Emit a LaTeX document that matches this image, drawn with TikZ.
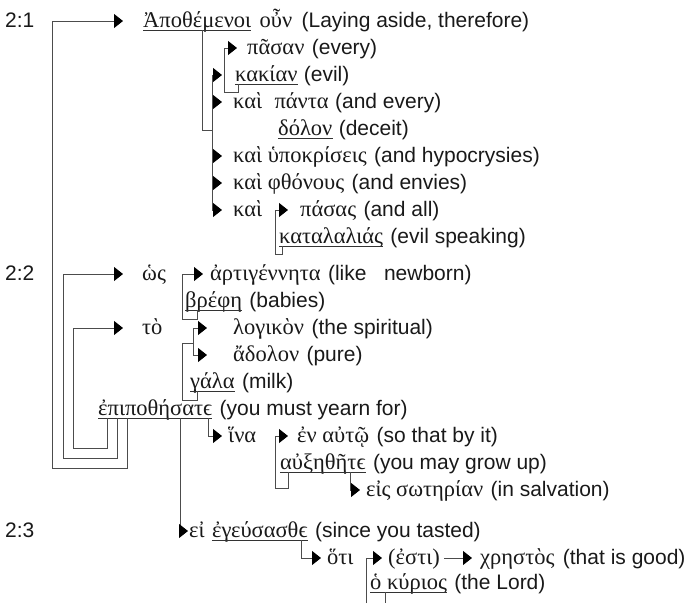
\documentclass[tikz,border=0pt]{standalone}
\usepackage{fontspec}
\setmainfont{Liberation Sans}
\newfontfamily\gk{Liberation Serif}
\usetikzlibrary{arrows.meta}
\begin{document}
\begin{tikzpicture}[x=1pt,y=-1pt,
  en/.style={anchor=base west,inner sep=0pt,text=black!90,font=\fontsize{21}{25}\selectfont},
  gk/.style={anchor=base west,inner sep=0pt,text=black!90,font=\fontsize{22.5}{27}\selectfont\gk},
  ln/.style={draw=black!70,line width=0.9pt},
  ar/.style={ln,-{Triangle[length=9pt,width=14pt,color=black]}},
  ul/.style={draw=black!80,line width=0.8pt}
]
\useasboundingbox (0,0) rectangle (696,603);
% Row 0
\node[en] (v1) at (5,27) {2:1};
\node[gk] (apo) at (143,27) {Ἀποθέμενοι};
\node[gk] (oun) at ([xshift=8pt]apo.base east) {οὖν};
\node[en] (e0) at ([xshift=9pt]oun.base east) {(Laying aside, therefore)};
% Row 1
\node[gk] (pasan) at (247,54) {πᾶσαν};
\node[en] (e1) at ([xshift=7pt]pasan.base east) {(every)};
% Row 2
\node[gk] (kakian) at (235,81) {κακίαν};
\node[en] (e2) at ([xshift=6pt]kakian.base east) {(evil)};
% Row 3
\node[gk] (kai3) at (233,108) {καὶ};
\node[gk] (panta) at ([xshift=12pt]kai3.base east) {πάντα};
\node[en] (e3) at ([xshift=6pt]panta.base east) {(and every)};
% Row 4
\node[gk] (dolon) at (278,135) {δόλον};
\node[en] (e4) at ([xshift=6pt]dolon.base east) {(deceit)};
% Row 5
\node[gk] (kai5) at (233,162) {καὶ ὑποκρίσεις};
\node[en] (e5) at ([xshift=7pt]kai5.base east) {(and hypocrysies)};
% Row 6
\node[gk] (kai6) at (233,189) {καὶ φθόνους};
\node[en] (e6) at ([xshift=7pt]kai6.base east) {(and envies)};
% Row 7
\node[gk] (kai7) at (233,216) {καὶ};
\node[gk] (pasas) at (300,216) {πάσας};
\node[en] (e7) at ([xshift=7pt]pasas.base east) {(and all)};
% Row 8
\node[gk] (katal) at (279,243) {καταλαλιάς};
\node[en] (e8) at ([xshift=7pt]katal.base east) {(evil speaking)};
% Row 9
\node[en] (v2) at (5,280) {2:2};
\node[gk] (hos) at (142,280) {ὡς};
\node[gk] (artig) at (210,280) {ἀρτιγέννητα};
\node[en] (e9) at ([xshift=7pt]artig.base east) {(like\ \ \ newborn)};
% Row 10
\node[gk] (brefe) at (185,307) {βρέφη};
\node[en] (e10) at ([xshift=7pt]brefe.base east) {(babies)};
% Row 11
\node[gk] (to) at (142,334) {τὸ};
\node[gk] (logik) at (233,334) {λογικὸν};
\node[en] (e11) at ([xshift=7pt]logik.base east) {(the spiritual)};
% Row 12
\node[gk] (adolon) at (233,361) {ἄδολον};
\node[en] (e12) at ([xshift=7pt]adolon.base east) {(pure)};
% Row 13
\node[gk] (gala) at (190,388) {γάλα};
\node[en] (e13) at ([xshift=7pt]gala.base east) {(milk)};
% Row 14
\node[gk] (epipo) at (98,415) {ἐπιποθήσατϵ};
\node[en] (e14) at ([xshift=7pt]epipo.base east) {(you must yearn for)};
% Row 15
\node[gk] (hina) at (228,442) {ἵνα};
\node[gk] (enauto) at (297,442) {ἐν αὐτῷ};
\node[en] (e15) at ([xshift=7pt]enauto.base east) {(so that by it)};
% Row 16
\node[gk] (auxe) at (280,469) {αὐξηθῆτϵ};
\node[en] (e16) at ([xshift=7pt]auxe.base east) {(you may grow up)};
% Row 17
\node[gk] (eis) at (366,496) {εἰς σωτηρίαν};
\node[en] (e17) at ([xshift=7pt]eis.base east) {(in salvation)};
% Row 18
\node[en] (v3) at (5,537) {2:3};
\node[gk] (ei) at (189,537) {εἰ};
\node[gk] (egeus) at ([xshift=7pt]ei.base east) {ἐγεύσασθϵ};
\node[en] (e18) at ([xshift=7pt]egeus.base east) {(since you tasted)};
% Row 19
\node[gk] (hoti) at (327,564) {ὅτι};
\node[gk] (esti) at (388,564) {(ἐστι)};
\node[gk] (chr) at (480,564) {χρηστὸς};
\node[en] (e19) at ([xshift=8pt]chr.base east) {(that is good)};
% Row 20
\node[gk] (kyr) at (370,589) {ὁ κύριος};
\node[en] (e20) at ([xshift=7pt]kyr.base east) {(the Lord)};
\coordinate (b1) at (366,603);
\coordinate (b2) at (385,603);
% underlines
\foreach \n in {apo,kakian,dolon,katal,brefe,gala,epipo,auxe,egeus,kyr}
  \draw[ul] ([yshift=-3pt]\n.base west) -- ([yshift=-3pt]\n.base east);
% left brackets
\draw[ar] ([xshift=29pt,yshift=-3pt]epipo.base west) |- (52,468) |- ([xshift=-20pt,yshift=6pt]apo.base west);
\draw[ar] ([xshift=19pt,yshift=-3pt]epipo.base west) |- (63,458) |- ([xshift=-19pt,yshift=6pt]hos.base west);
\draw[ar] ([xshift=9pt,yshift=-3pt]epipo.base west) |- (73,448) |- ([xshift=-19pt,yshift=6pt]to.base west);
% verse 2:1
\draw[ln] ([xshift=59pt,yshift=-3pt]apo.base west) |- (212,130);
\draw[ln] (212,75) -- (212,210);
\draw[ar] (212,75) -- ([xshift=-13pt,yshift=6pt]kakian.base west);
\draw[ar] (212,102) -- ([xshift=-11pt,yshift=6pt]kai3.base west);
\draw[ar] (212,156) -- ([xshift=-11pt,yshift=6pt]kai5.base west);
\draw[ar] (212,183) -- ([xshift=-11pt,yshift=6pt]kai6.base west);
\draw[ar] (212,210) -- ([xshift=-11pt,yshift=6pt]kai7.base west);
\draw[ar] ([xshift=3pt,yshift=-3pt]kakian.base west) -- ++(0,8) -| (224,48) -- ([xshift=-10pt,yshift=6pt]pasan.base west);
\draw[ar] ([xshift=3pt,yshift=-3pt]katal.base west) -- ++(0,8) -| (275,210) -- ([xshift=-12pt,yshift=6pt]pasas.base west);
% verse 2:2
\draw[ar] ([xshift=12pt,yshift=-3pt]brefe.base west) -- ++(0,9) -| (182,274) -- ([xshift=-7pt,yshift=6pt]artig.base west);
\draw[ln] (193,328) -- (193,355);
\draw[ar] (193,328) -- ([xshift=-26pt,yshift=6pt]logik.base west);
\draw[ar] (193,355) -- ([xshift=-26pt,yshift=6pt]adolon.base west);
\draw[ln] ([xshift=7pt,yshift=-3pt]gala.base west) -- ++(0,9) -| (182,343) -- (193,343);
\draw[ar] ([xshift=82pt,yshift=-3pt]epipo.base west) |- ([xshift=-1pt,yshift=6pt]ei.base west);
\draw[ar] ([xshift=110pt,yshift=-3pt]epipo.base west) |- ([xshift=-6pt,yshift=6pt]hina.base west);
\draw[ar] ([xshift=8pt,yshift=-3pt]auxe.base west) -- ++(0,16) -| (275,436) -- ([xshift=-9pt,yshift=6pt]enauto.base west);
\draw[ar] ([xshift=70pt,yshift=-3pt]auxe.base west) |- ([xshift=-6pt,yshift=6pt]eis.base west);
% verse 2:3
\draw[ar] ([xshift=90pt,yshift=-3pt]egeus.base west) |- ([xshift=-6pt,yshift=6pt]hoti.base west);
\draw[ar] (b1) |- ([xshift=-6pt,yshift=6pt]esti.base west);
\draw[ar] ([xshift=4pt,yshift=6pt]esti.base east) -- ([xshift=-8pt,yshift=6pt]chr.base west);
\draw[ln] ([xshift=15pt,yshift=-3pt]kyr.base west) -- (b2);
\end{tikzpicture}
\end{document}
